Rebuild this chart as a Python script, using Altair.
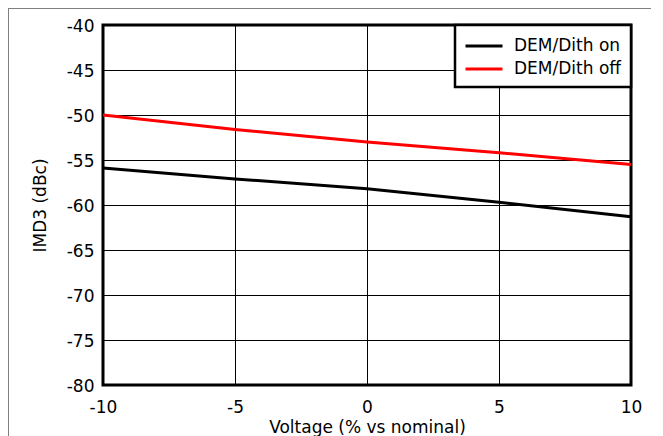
import altair as alt
import pandas as pd

# ---- data ----
voltage = [-10, -5, 0, 5, 10]
dem_on = [-55.9, -57.1, -58.2, -59.7, -61.3]
dem_off = [-50.0, -51.6, -53.0, -54.2, -55.5]
series_names = ["DEM/Dith on", "DEM/Dith off"]
series_colors = ["#000000", "#ff0000"]
x_ticks = [-10, -5, 0, 5, 10]
y_ticks = [-80, -75, -70, -65, -60, -55, -50, -45, -40]

rows = []
for v, a, b in zip(voltage, dem_on, dem_off):
    rows.append({"voltage": v, "imd3": a, "series": series_names[0]})
    rows.append({"voltage": v, "imd3": b, "series": series_names[1]})
df = pd.DataFrame(rows)

FONT = "DejaVu Sans"
FS = 17

axis_common = dict(
    grid=True, gridColor="black", gridWidth=1, gridOpacity=1,
    ticks=False, tickSize=0, domain=False, labelFlush=False,
    labelFont=FONT, labelFontSize=FS, labelColor="black",
    titleFont=FONT, titleFontSize=FS, titleColor="black", titleFontWeight="normal",
    labelExpr="datum.value + ''",
)

lines = alt.Chart(df).mark_line(strokeWidth=3).encode(
    x=alt.X(
        "voltage:Q",
        scale=alt.Scale(domain=[-10, 10], nice=False, zero=False),
        axis=alt.Axis(values=x_ticks, title="Voltage (% vs nominal)",
                      labelPadding=14, titlePadding=4, **axis_common),
    ),
    y=alt.Y(
        "imd3:Q",
        scale=alt.Scale(domain=[-80, -40], nice=False, zero=False),
        axis=alt.Axis(values=y_ticks, title="IMD3 (dBc)", labelOffset=1.5,
                      labelPadding=9, titlePadding=17, **axis_common),
    ),
    color=alt.Color(
        "series:N",
        scale=alt.Scale(domain=series_names, range=series_colors),
        legend=alt.Legend(
            title=None, orient="top-right", offset=0,
            symbolType="M-2,0H2", symbolSize=342, symbolStrokeWidth=3,
            symbolOffset=8, labelOffset=19,
            labelFont=FONT, labelFontSize=FS, labelColor="black",
            padding=10, rowPadding=4,
        ),
    ),
    detail="series:N",
)

frame_df = pd.DataFrame({"k": [0]})
frame_left = alt.Chart(frame_df).mark_rule(color="#808080", strokeWidth=1).encode(
    x=alt.value(-94.5), y=alt.value(-17), y2=alt.value(500)
)
frame_top = alt.Chart(frame_df).mark_rule(color="#808080", strokeWidth=1).encode(
    x=alt.value(-95), x2=alt.value(700), y=alt.value(-16.5)
)

chart = alt.layer(frame_left, frame_top, lines).properties(
    width=528, height=360,
    padding={"left": 95, "top": 17, "right": 20, "bottom": 51},
    autosize="none",
    background="white",
).configure_view(
    stroke="black", strokeWidth=3
).configure_legend(
    strokeColor="black", strokeWidth=2.5, fillColor="white",
)

chart.save("out.html", embed_options={"renderer": "svg", "actions": False})
